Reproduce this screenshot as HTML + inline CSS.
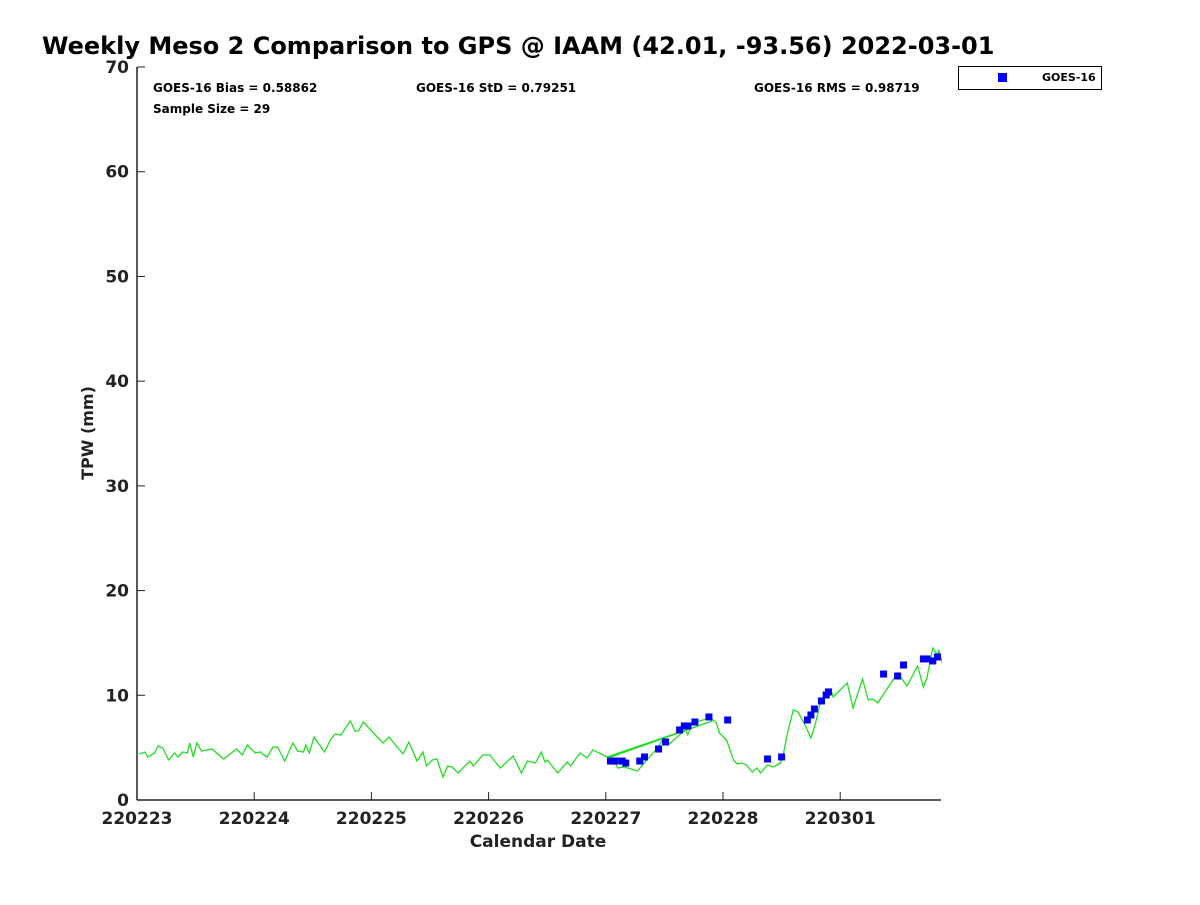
<!DOCTYPE html>
<html><head><meta charset="utf-8"><style>
body{margin:0;background:#fff;}
svg text{font-family:"DejaVu Sans","Liberation Sans",sans-serif;font-weight:bold;}
</style></head><body>
<svg id="chart" width="1200" height="900">
<text x="42" y="54" font-size="24" fill="#000">Weekly Meso 2 Comparison to GPS @ IAAM (42.01, -93.56) 2022-03-01</text>
<g font-size="12" fill="#000">
<text x="153" y="92">GOES-16 Bias = 0.58862</text>
<text x="416" y="92">GOES-16 StD = 0.79251</text>
<text x="754" y="92">GOES-16 RMS = 0.98719</text>
<text x="153" y="113">Sample Size = 29</text>
</g>
<g>
<rect x="958.5" y="66.5" width="143" height="23" fill="#fff" stroke="#000" stroke-width="1"/>
<rect x="998" y="73" width="9" height="9" fill="#0000ff"/>
<text x="1042" y="81" font-size="11">GOES-16</text>
</g>
<text transform="translate(93,433) rotate(-90)" text-anchor="middle" font-size="16" fill="#222">TPW (mm)</text>
<text x="538" y="847" text-anchor="middle" font-size="17" fill="#222">Calendar Date</text>
<g id="axes"></g>
<g id="marks" clip-path="url(#clip)"></g>
<defs><clipPath id="clip"><rect x="137" y="60" width="805" height="745"/></clipPath></defs>
</svg>
<script>
const xTickLabels=["220223","220224","220225","220226","220227","220228","220301"];
const yTickLabels=[0,10,20,30,40,50,60,70];
const gpsDays=[0.02,0.07,0.09,0.15,0.18,0.22,0.27,0.32,0.35,0.39,0.43,0.45,0.48,0.51,0.55,0.64,0.74,0.85,0.90,0.94,1.01,1.05,1.11,1.16,1.20,1.26,1.33,1.37,1.42,1.44,1.47,1.51,1.60,1.65,1.69,1.74,1.82,1.86,1.89,1.93,2.05,2.10,2.15,2.27,2.32,2.39,2.44,2.47,2.52,2.56,2.61,2.65,2.69,2.74,2.84,2.87,2.95,3.01,3.10,3.21,3.28,3.33,3.40,3.45,3.48,3.50,3.59,3.67,3.70,3.78,3.84,3.89,4.01,4.91,4.02,4.08,4.10,4.16,4.27,4.35,4.45,4.49,4.53,4.63,4.68,4.70,4.74,4.83,4.89,4.94,4.97,5.03,5.09,5.12,5.16,5.20,5.25,5.29,5.32,5.38,5.43,5.49,5.51,5.55,5.60,5.64,5.70,5.75,5.79,5.83,5.89,5.93,5.94,6.06,6.11,6.19,6.24,6.28,6.32,6.41,6.49,6.57,6.66,6.71,6.74,6.79,6.83,6.84,6.87];
const gpsTpw=[4.39,4.58,4.11,4.49,5.16,4.97,3.82,4.49,4.11,4.58,4.49,5.44,4.11,5.44,4.68,4.87,3.92,4.87,4.30,5.25,4.49,4.58,4.11,5.06,5.06,3.72,5.44,4.68,4.58,5.25,4.49,6.02,4.58,5.73,6.30,6.21,7.55,6.59,6.59,7.45,6.02,5.44,6.02,4.39,5.54,3.72,4.58,3.25,3.82,3.92,2.20,3.25,3.15,2.58,3.72,3.25,4.30,4.30,3.06,4.20,2.58,3.72,3.53,4.58,3.63,3.82,2.58,3.63,3.25,4.49,4.01,4.78,4.11,7.55,4.01,3.53,3.06,3.15,2.77,3.82,5.06,5.92,5.25,6.21,6.69,6.21,7.35,7.64,7.83,7.45,6.40,5.73,3.82,3.44,3.53,3.34,2.67,3.06,2.58,3.34,3.15,3.53,4.11,6.40,8.60,8.40,7.16,5.92,7.35,9.26,10.03,10.22,9.84,11.17,8.79,11.56,9.55,9.65,9.26,10.79,12.13,10.89,12.80,10.79,11.65,14.52,13.85,14.33,13.09];
const goesDays=[4.04,4.08,4.14,4.17,4.29,4.33,4.45,4.51,4.63,4.67,4.70,4.76,4.88,5.04,5.38,5.50,5.72,5.75,5.78,5.84,5.88,5.90,6.37,6.49,6.54,6.71,6.74,6.79,6.83];
const goesTpw=[3.72,3.72,3.72,3.53,3.72,4.11,4.87,5.54,6.69,7.07,7.07,7.45,7.93,7.64,3.92,4.11,7.64,8.12,8.69,9.46,10.03,10.32,12.03,11.84,12.89,13.47,13.47,13.28,13.66];
const NS="http://www.w3.org/2000/svg";
const X0=137,X1=941,Y0=800,Y1=67,DMAX=6.86;
function xs(d){return X0+d*(X1-X0)/DMAX;}
function ys(v){return Y0-v*(Y0-Y1)/70;}
function mk(t,a,p){const e=document.createElementNS(NS,t);for(const k in a)e.setAttribute(k,a[k]);p.appendChild(e);return e;}
const axes=document.getElementById('axes'),marks=document.getElementById('marks');
const yl=mk('line',{x1:X0,y1:Y1,x2:X0,y2:Y0,stroke:'#222','stroke-width':1.5},axes);


const xl=mk('line',{x1:X0,y1:Y0,x2:X1,y2:Y0,stroke:'#222','stroke-width':1.5},axes);


yTickLabels.forEach(v=>{
 const y=ys(v);
 const tk=mk('line',{x1:X0,y1:y,x2:X0+8,y2:y,stroke:'#222','stroke-width':1},axes);
 
 
 const t=mk('text',{x:X0-8,y:y+6,'text-anchor':'end','font-size':17,fill:'#222'},axes);
 t.textContent=v;
 
 
});
xTickLabels.forEach((s,i)=>{
 const x=xs(i);
 const tk=mk('line',{x1:x,y1:Y0,x2:x,y2:Y0-8,stroke:'#222','stroke-width':1},axes);
 
 
 const t=mk('text',{x:x,y:Y0+24,'text-anchor':'middle','font-size':17,fill:'#222'},axes);
 t.textContent=s;
 
 
});
const pl=mk('polyline',{points:gpsDays.map((d,i)=>xs(d).toFixed(1)+','+ys(gpsTpw[i]).toFixed(1)).join(' '),fill:'none',stroke:'#22dd22','stroke-width':1.3},marks);


goesDays.forEach((d,i)=>{
 const r=mk('rect',{x:xs(d)-3.5,y:ys(goesTpw[i])-3.5,width:7,height:7,fill:'#0000ee'},marks);
 
 
});
</script>
</body></html>
